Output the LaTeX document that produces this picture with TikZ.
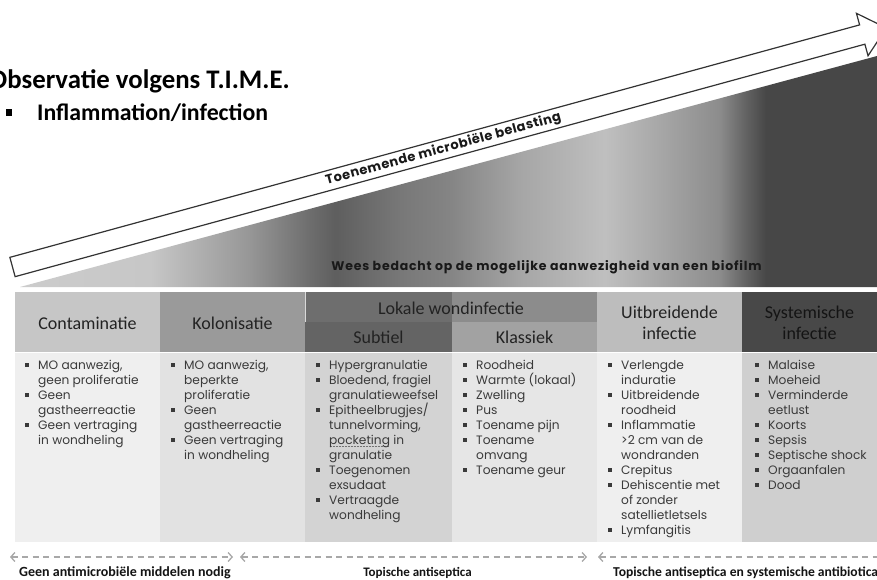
\documentclass[tikz,border=0pt]{standalone}
\usepackage{fontspec}
\setmainfont{Carlito}
\newfontfamily\pop{Poppins}
\newfontfamily\popw{Poppins}[LetterSpace=6.4]
\newfontfamily\popt{Poppins}[LetterSpace=4]
\usetikzlibrary{arrows.meta}
\pgfdeclarehorizontalshading{tri}{100bp}{rgb(0bp)=(.80,.80,.80); rgb(25bp)=(.80,.80,.80); rgb(32.6bp)=(.78,.78,.78); rgb(38.4bp)=(.59,.59,.59); rgb(41.9bp)=(.43,.43,.43); rgb(43.4bp)=(.37,.37,.37); rgb(47.2bp)=(.47,.47,.47); rgb(50.1bp)=(.52,.52,.52); rgb(54.2bp)=(.65,.65,.65); rgb(59.1bp)=(.75,.75,.75); rgb(61.8bp)=(.67,.67,.67); rgb(65.8bp)=(.55,.55,.55); rgb(67.3bp)=(.39,.39,.39); rgb(68.5bp)=(.28,.28,.28); rgb(75bp)=(.28,.28,.28); rgb(100bp)=(.28,.28,.28)}
\definecolor{hContam}{HTML}{C6C6C6}
\definecolor{hKolon}{HTML}{9A9A9A}
\definecolor{hLokTL}{HTML}{6E6E6E}
\definecolor{hLokTR}{HTML}{8C8C8C}
\definecolor{hSubt}{HTML}{646464}
\definecolor{hKlas}{HTML}{A2A2A2}
\definecolor{hUitb}{HTML}{BDBDBD}
\definecolor{hSyst}{HTML}{484848}
\definecolor{bContam}{HTML}{EFEFEF}
\definecolor{bKolon}{HTML}{E2E2E2}
\definecolor{bSubt}{HTML}{D3D3D3}
\definecolor{bKlas}{HTML}{E6E6E6}
\definecolor{bUitb}{HTML}{EFEFEF}
\definecolor{bSyst}{HTML}{CFCFCF}
\definecolor{hdrtxt}{HTML}{222222}
\definecolor{bodytxt}{HTML}{3A3A3A}
\definecolor{dashgray}{HTML}{A8A8A8}
\newcommand\blsq{\makebox[13pt][l]{\raisebox{2.4pt}{\rule{3.6pt}{3.6pt}}}}
\newcommand\bitem[1]{\par\hangindent=13pt\hangafter=1\noindent\blsq#1}
\newcommand\blist[1]{\begin{minipage}[t]{200pt}\pop\fontsize{12.2}{15}\selectfont\raggedright\let\\\newline\parskip=0pt #1\end{minipage}}
\newcommand\dotul[1]{\setbox0=\hbox{#1}\leavevmode\rlap{\raisebox{-2.8pt}{\color{black!55}\leaders\hbox to 1.5pt{\hss\rule{0.8pt}{0.7pt}\hss}\hskip\wd0}}#1}
\tikzset{
  hdr/.style={inner sep=0, text=hdrtxt, font=\fontsize{18}{21}\selectfont, align=center},
  body/.style={anchor=base west, inner sep=0, text=bodytxt},
  darr/.style={draw=dashgray, line width=1.5pt, dash pattern=on 6pt off 4.5pt,
    {Straight Barb[length=4pt,width=9pt,line width=1.3pt]}-{Straight Barb[length=4pt,width=9pt,line width=1.3pt]}},
  foot/.style={inner sep=0, text=black!92, font=\bfseries\fontsize{13}{15}\selectfont}
}
\begin{document}
\begin{tikzpicture}[x=1pt,y=-1pt]
\useasboundingbox[fill=white] (0,0) rectangle (877,579);
% title
\node[anchor=base west, inner sep=0, font=\bfseries\fontsize{26.8}{30}\selectfont] (title) at (-11,88) {Observatie volgens T.I.M.E.};
\fill (5.5,109) rectangle (12,115.5);
\node[anchor=base west, inner sep=0, font=\bfseries\fontsize{23.8}{27}\selectfont] (sub) at (37,120) {Inflammation/infection};
% shaded triangle
\shade[shading=tri] (20,287) -- (877,56) -- (877,287) -- cycle;
% arrow
\begin{scope}[shift={(12.5,267)}, rotate=15.3]
\draw[fill=white, draw=black!80, line width=1.2pt, line join=miter] (0,-10) -- (881,-10) -- (881,-22) -- (906,0) -- (881,22) -- (881,10) -- (0,10) -- cycle;
\node[rotate=15.3, inner sep=0, font=\popt\bfseries\fontsize{13}{15}\selectfont, text=black!90] (lbl) at (446.8,0) {Toenemende microbiële belasting};
\end{scope}
\node[inner sep=0, font=\popw\bfseries\fontsize{12.5}{14}\selectfont, text=black!90] (wees) at (546.5,267) {Wees bedacht op de mogelijke aanwezigheid van een biofilm};
% header backgrounds
\fill[hContam] (15,292) rectangle (160,352);
\fill[hKolon] (160,292) rectangle (305,352);
\fill[hLokTL] (305,292) rectangle (452,322);
\fill[hLokTR] (452,292) rectangle (597,322);
\fill[hSubt] (305,322) rectangle (452,352);
\fill[hKlas] (452,322) rectangle (597,352);
\fill[hUitb] (597,292) rectangle (742,352);
\fill[hSyst] (742,292) rectangle (877,352);
\draw[white!85!black, line width=0.8pt] (305.4,292) -- (305.4,322);
% body backgrounds
\fill[bContam] (15,353) rectangle (160,542);
\fill[bKolon] (160,353) rectangle (305,542);
\fill[bSubt] (305,353) rectangle (452,542);
\fill[bKlas] (452,353) rectangle (597,542);
\fill[bUitb] (597,353) rectangle (742,542);
\fill[bSyst] (742,353) rectangle (877,542);
% header texts
\node[hdr] (hc) at (87.5,323) {Contaminatie};
\node[hdr] (hk) at (232.5,323) {Kolonisatie};
\node[hdr] (hl) at (451,308) {Lokale wondinfectie};
\node[hdr] (hs) at (378.5,337) {Subtiel};
\node[hdr] (hkl) at (524.5,337) {Klassiek};
\node[hdr] (hu) at (669.5,322.5) {Uitbreidende\\infectie};
\node[hdr, text=black!92] (hsy) at (809.5,322.5) {Systemische\\infectie};
% body texts
\node[body] (bc) at (25,369) {\blist{\bitem{MO aanwezig,\\geen proliferatie}\bitem{Geen\\gastheerreactie}\bitem{Geen vertraging\\in wondheling}}};
\node[body] (bk) at (171,369) {\blist{\bitem{MO aanwezig,\\beperkte\\proliferatie}\bitem{Geen\\gastheerreactie}\bitem{Geen vertraging\\in wondheling}}};
\node[body] (bs) at (316,369) {\blist{\bitem{Hypergranulatie}\bitem{Bloedend, fragiel\\granulatieweefsel}\bitem{Epitheelbrugjes/\\tunnelvorming,\\\dotul{pocketing} in\\granulatie}\bitem{Toegenomen\\exsudaat}\bitem{Vertraagde\\wondheling}}};
\node[body] (bkl) at (463,369) {\blist{\bitem{Roodheid}\bitem{Warmte (lokaal)}\bitem{Zwelling}\bitem{Pus}\bitem{Toename pijn}\bitem{Toename\\omvang}\bitem{Toename geur}}};
\node[body] (bu) at (608,369) {\blist{\bitem{Verlengde\\induratie}\bitem{Uitbreidende\\roodheid}\bitem{Inflammatie\\>2 cm van de\\wondranden}\bitem{Crepitus}\bitem{Dehiscentie met\\of zonder\\satellietletsels}\bitem{Lymfangitis}}};
\node[body] (bsy) at (755,369) {\blist{\bitem{Malaise}\bitem{Moeheid}\bitem{Verminderde\\eetlust}\bitem{Koorts}\bitem{Sepsis}\bitem{Septische shock}\bitem{Orgaanfalen}\bitem{Dood}}};
% bottom dashed arrows
\coordinate (a1) at (10,557);
\coordinate (a2) at (233,557);
\coordinate (b1) at (240,557);
\coordinate (b2) at (587,557);
\coordinate (c1) at (598,557);
\coordinate (c2) at (884,557);
\draw[darr] (a1) -- (a2);
\draw[darr] (b1) -- (b2);
\draw[darr] (c1) -- (c2);
\node[foot, font=\bfseries\fontsize{14}{16}\selectfont] (f1) at (125,573) {Geen antimicrobiële middelen nodig};
\node[foot] (f2) at (417.5,573) {Topische antiseptica};
\node[foot, anchor=west, font=\bfseries\fontsize{13.6}{16}\selectfont] (f3) at (613,573) {Topische antiseptica en systemische antibiotica};
\end{tikzpicture}
\end{document}
